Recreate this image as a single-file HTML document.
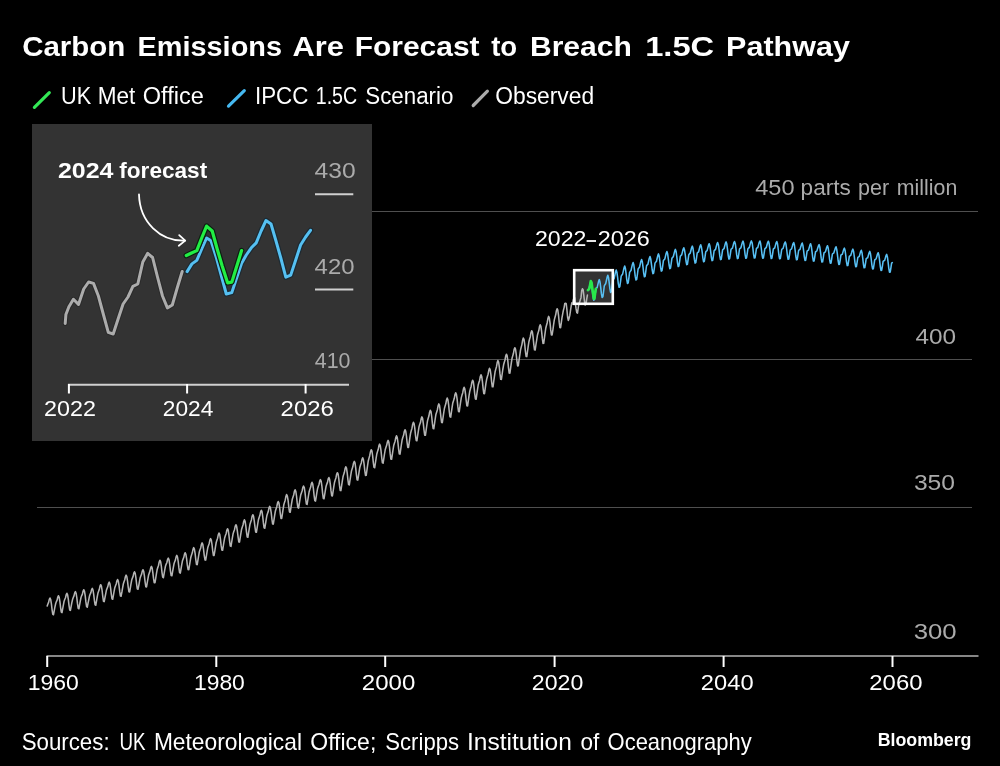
<!DOCTYPE html>
<html><head><meta charset="utf-8"><title>Carbon Emissions Are Forecast to Breach 1.5C Pathway</title>
<style>
html,body{margin:0;padding:0;background:#000;width:1000px;height:766px;overflow:hidden}
svg{display:block}
text{font-family:"Liberation Sans",sans-serif}
</style></head><body>
<svg width="1000" height="766" viewBox="0 0 1000 766" style="will-change:transform">
<rect width="1000" height="766" fill="#000"/>
<text x="22.15" y="56.00" font-size="28" font-weight="bold" fill="#fff" textLength="103.21" lengthAdjust="spacingAndGlyphs">Carbon</text>
<text x="137.54" y="56.00" font-size="28" font-weight="bold" fill="#fff" textLength="144.46" lengthAdjust="spacingAndGlyphs">Emissions</text>
<text x="292.50" y="56.00" font-size="28" font-weight="bold" fill="#fff" textLength="51.37" lengthAdjust="spacingAndGlyphs">Are</text>
<text x="354.66" y="56.00" font-size="28" font-weight="bold" fill="#fff" textLength="124.94" lengthAdjust="spacingAndGlyphs">Forecast</text>
<text x="491.20" y="56.00" font-size="28" font-weight="bold" fill="#fff" textLength="26.03" lengthAdjust="spacingAndGlyphs">to</text>
<text x="529.95" y="56.00" font-size="28" font-weight="bold" fill="#fff" textLength="101.85" lengthAdjust="spacingAndGlyphs">Breach</text>
<text x="645.23" y="56.00" font-size="28" font-weight="bold" fill="#fff" textLength="68.95" lengthAdjust="spacingAndGlyphs">1.5C</text>
<text x="726.12" y="56.00" font-size="28" font-weight="bold" fill="#fff" textLength="123.75" lengthAdjust="spacingAndGlyphs">Pathway</text>
<g stroke-linecap="round" stroke-width="3.2">
<line x1="34.4" y1="107.3" x2="49.3" y2="92.6" stroke="#33e856"/>
<line x1="228.5" y1="106.1" x2="244.3" y2="90.6" stroke="#45b8f0"/>
<line x1="473.2" y1="105.5" x2="487.4" y2="91.2" stroke="#acacac"/>
</g>
<text x="61.07" y="104.00" font-size="23.3" fill="#fff" textLength="30.18" lengthAdjust="spacingAndGlyphs">UK</text>
<text x="97.66" y="104.00" font-size="23.3" fill="#fff" textLength="37.58" lengthAdjust="spacingAndGlyphs">Met</text>
<text x="142.79" y="104.00" font-size="23.3" fill="#fff" textLength="61.05" lengthAdjust="spacingAndGlyphs">Office</text>
<text x="254.98" y="104.00" font-size="23.3" fill="#fff" textLength="53.47" lengthAdjust="spacingAndGlyphs">IPCC</text>
<text x="315.76" y="104.00" font-size="23.3" fill="#fff" textLength="41.43" lengthAdjust="spacingAndGlyphs">1.5C</text>
<text x="365.24" y="104.00" font-size="23.3" fill="#fff" textLength="88.17" lengthAdjust="spacingAndGlyphs">Scenario</text>
<text x="495.22" y="104.00" font-size="23.3" fill="#fff" textLength="98.87" lengthAdjust="spacingAndGlyphs">Observed</text>
<!-- gridlines -->
<g stroke="#4f4f4f" stroke-width="1.2">
<line x1="37" y1="211.5" x2="978" y2="211.5"/>
<line x1="37" y1="359.5" x2="972" y2="359.5"/>
<line x1="37" y1="507.5" x2="972" y2="507.5"/>
</g>
<text x="755.20" y="195.20" font-size="22.5" fill="#ababab" textLength="39.37" lengthAdjust="spacingAndGlyphs">450</text>
<text x="800.60" y="195.20" font-size="22.5" fill="#ababab" textLength="50.24" lengthAdjust="spacingAndGlyphs">parts</text>
<text x="858.04" y="195.20" font-size="22.5" fill="#ababab" textLength="31.11" lengthAdjust="spacingAndGlyphs">per</text>
<text x="896.85" y="195.20" font-size="22.5" fill="#ababab" textLength="60.47" lengthAdjust="spacingAndGlyphs">million</text>
<text x="915.50" y="343.70" font-size="22.5" fill="#ababab" textLength="40.59" lengthAdjust="spacingAndGlyphs">400</text>
<text x="913.91" y="490.00" font-size="22.5" fill="#ababab" textLength="41.09" lengthAdjust="spacingAndGlyphs">350</text>
<text x="913.66" y="638.60" font-size="22.5" fill="#ababab" textLength="42.97" lengthAdjust="spacingAndGlyphs">300</text>
<!-- axis -->
<line x1="46.5" y1="656" x2="978.5" y2="656" stroke="#868686" stroke-width="2"/>
<g stroke="#fff" stroke-width="2">
<line x1="47.2" y1="656" x2="47.2" y2="667"/>
<line x1="216.3" y1="656" x2="216.3" y2="667"/>
<line x1="385.2" y1="656" x2="385.2" y2="667"/>
<line x1="554.6" y1="656" x2="554.6" y2="667"/>
<line x1="723.6" y1="656" x2="723.6" y2="667"/>
<line x1="892.5" y1="656" x2="892.5" y2="667"/>
</g>
<text x="27.78" y="689.60" font-size="22.5" fill="#fff" textLength="51.08" lengthAdjust="spacingAndGlyphs">1960</text>
<text x="193.98" y="689.60" font-size="22.5" fill="#fff" textLength="50.88" lengthAdjust="spacingAndGlyphs">1980</text>
<text x="361.83" y="689.60" font-size="22.5" fill="#fff" textLength="53.43" lengthAdjust="spacingAndGlyphs">2000</text>
<text x="531.77" y="689.60" font-size="22.5" fill="#fff" textLength="51.49" lengthAdjust="spacingAndGlyphs">2020</text>
<text x="700.85" y="689.60" font-size="22.5" fill="#fff" textLength="52.72" lengthAdjust="spacingAndGlyphs">2040</text>
<text x="869.34" y="689.60" font-size="22.5" fill="#fff" textLength="53.13" lengthAdjust="spacingAndGlyphs">2060</text>
<!-- highlight box -->
<rect x="574.2" y="270.2" width="38.6" height="33.6" fill="#333" />
<g fill="none" stroke-linejoin="round" stroke-linecap="round" stroke-width="1.55">
<polyline points="47.2,606.0 47.9,604.0 48.6,602.4 49.3,599.4 50.0,598.0 50.7,599.5 51.4,603.8 52.1,609.8 52.8,614.4 53.5,614.7 54.2,610.9 54.9,607.1 55.7,603.5 56.4,601.6 57.1,600.1 57.8,597.0 58.5,595.7 59.2,597.3 59.9,601.6 60.6,607.6 61.3,612.2 62.0,612.6 62.7,608.7 63.4,604.8 64.1,601.2 64.8,599.3 65.5,597.7 66.2,594.7 66.9,593.3 67.6,594.8 68.3,599.2 69.0,605.3 69.7,610.0 70.4,610.4 71.1,606.6 71.8,602.8 72.6,599.3 73.3,597.4 74.0,595.9 74.7,592.9 75.4,591.6 76.1,593.2 76.8,597.6 77.5,603.7 78.2,608.4 78.9,608.8 79.6,604.9 80.3,601.1 81.0,597.5 81.7,595.6 82.4,594.1 83.1,591.0 83.8,589.7 84.5,591.3 85.2,595.7 85.9,601.9 86.6,606.7 87.3,607.2 88.0,603.3 88.8,599.5 89.5,596.0 90.2,594.1 90.9,592.6 91.6,589.6 92.3,588.4 93.0,590.0 93.7,594.4 94.4,600.4 95.1,604.9 95.8,605.2 96.5,601.1 97.2,597.0 97.9,593.3 98.6,591.2 99.3,589.4 100.0,586.2 100.7,584.7 101.4,586.1 102.1,590.5 102.8,596.6 103.5,601.3 104.2,601.7 104.9,597.8 105.7,593.8 106.4,590.2 107.1,588.2 107.8,586.6 108.5,583.5 109.2,582.1 109.9,583.7 110.6,588.1 111.3,594.2 112.0,598.9 112.7,599.3 113.4,595.3 114.1,591.4 114.8,587.7 115.5,585.7 116.2,584.0 116.9,580.9 117.6,579.5 118.3,581.1 119.0,585.4 119.7,591.4 120.4,596.0 121.1,596.2 121.9,592.0 122.6,587.8 123.3,584.0 124.0,581.8 124.7,580.0 125.4,576.7 126.1,575.1 126.8,576.5 127.5,580.8 128.2,587.0 128.9,591.7 129.6,592.0 130.3,588.0 131.0,583.9 131.7,580.1 132.4,578.1 133.1,576.4 133.8,573.2 134.5,571.8 135.2,573.3 135.9,577.7 136.6,584.0 137.3,588.8 138.0,589.3 138.8,585.3 139.5,581.3 140.2,577.7 140.9,575.7 141.6,574.1 142.3,571.0 143.0,569.7 143.7,571.3 144.4,575.8 145.1,582.0 145.8,586.7 146.5,587.0 147.2,582.9 147.9,578.8 148.6,575.0 149.3,572.9 150.0,571.1 150.7,567.9 151.4,566.4 152.1,567.9 152.8,572.3 153.5,578.2 154.2,582.7 155.0,582.7 155.7,578.3 156.4,573.9 157.1,569.8 157.8,567.5 158.5,565.5 159.2,562.0 159.9,560.2 160.6,561.5 161.3,565.9 162.0,572.3 162.7,577.2 163.4,577.7 164.1,573.7 164.8,569.7 165.5,566.0 166.2,564.1 166.9,562.5 167.6,559.4 168.3,558.1 169.0,559.7 169.7,564.3 170.4,570.6 171.1,575.5 171.9,575.8 172.6,571.7 173.3,567.6 174.0,563.8 174.7,561.8 175.4,560.1 176.1,556.8 176.8,555.4 177.5,557.0 178.2,561.5 178.9,567.9 179.6,572.7 180.3,573.1 181.0,569.0 181.7,564.9 182.4,561.1 183.1,559.1 183.8,557.3 184.5,554.1 185.2,552.7 185.9,554.3 186.6,558.7 187.3,564.9 188.1,569.6 188.8,569.7 189.5,565.4 190.2,561.0 190.9,557.0 191.6,554.7 192.3,552.8 193.0,549.3 193.7,547.6 194.4,549.0 195.1,553.4 195.8,559.6 196.5,564.4 197.2,564.6 197.9,560.3 198.6,556.0 199.3,552.0 200.0,549.8 200.7,547.9 201.4,544.5 202.1,542.9 202.8,544.3 203.5,548.8 204.2,555.1 205.0,559.9 205.7,560.1 206.4,555.8 207.1,551.5 207.8,547.6 208.5,545.4 209.2,543.5 209.9,540.1 210.6,538.6 211.3,540.0 212.0,544.5 212.7,550.7 213.4,555.4 214.1,555.5 214.8,551.1 215.5,546.7 216.2,542.5 216.9,540.2 217.6,538.2 218.3,534.7 219.0,533.0 219.7,534.4 220.4,538.8 221.1,545.2 221.9,550.1 222.6,550.3 223.3,546.0 224.0,541.7 224.7,537.7 225.4,535.6 226.1,533.7 226.8,530.3 227.5,528.7 228.2,530.2 228.9,534.8 229.6,541.2 230.3,546.1 231.0,546.4 231.7,542.0 232.4,537.7 233.1,533.7 233.8,531.5 234.5,529.7 235.2,526.3 235.9,524.7 236.6,526.2 237.3,530.7 238.1,537.1 238.8,541.9 239.5,542.1 240.2,537.7 240.9,533.3 241.6,529.2 242.3,526.9 243.0,525.0 243.7,521.5 244.4,519.8 245.1,521.3 245.8,525.8 246.5,532.1 247.2,537.0 247.9,537.2 248.6,532.7 249.3,528.3 250.0,524.2 250.7,521.9 251.4,519.9 252.1,516.4 252.8,514.7 253.5,516.2 254.2,520.7 255.0,527.2 255.7,532.1 256.4,532.3 257.1,527.9 257.8,523.5 258.5,519.4 259.2,517.2 259.9,515.3 260.6,511.8 261.3,510.2 262.0,511.7 262.7,516.4 263.4,522.9 264.1,527.9 264.8,528.2 265.5,523.8 266.2,519.5 266.9,515.4 267.6,513.2 268.3,511.4 269.0,507.9 269.7,506.4 270.4,507.9 271.2,512.6 271.9,519.0 272.6,523.9 273.3,524.1 274.0,519.6 274.7,515.1 275.4,511.0 276.1,508.7 276.8,506.7 277.5,503.1 278.2,501.5 278.9,502.9 279.6,507.4 280.3,513.7 281.0,518.5 281.7,518.5 282.4,513.9 283.1,509.2 283.8,504.8 284.5,502.4 285.2,500.2 285.9,496.5 286.6,494.6 287.3,495.9 288.1,500.5 288.8,507.0 289.5,512.0 290.2,512.3 290.9,507.8 291.6,503.3 292.3,499.2 293.0,496.9 293.7,495.0 294.4,491.4 295.1,489.8 295.8,491.3 296.5,496.0 297.2,502.7 297.9,507.7 298.6,508.1 299.3,503.6 300.0,499.2 300.7,495.1 301.4,492.9 302.1,491.0 302.8,487.6 303.5,486.0 304.3,487.6 305.0,492.3 305.7,499.0 306.4,504.1 307.1,504.4 307.8,500.0 308.5,495.5 309.2,491.4 309.9,489.2 310.6,487.3 311.3,483.8 312.0,482.3 312.7,483.8 313.4,488.7 314.1,495.5 314.8,500.7 315.5,501.1 316.2,496.8 316.9,492.4 317.6,488.4 318.3,486.3 319.0,484.5 319.7,481.1 320.4,479.6 321.2,481.3 321.9,486.2 322.6,493.1 323.3,498.3 324.0,498.8 324.7,494.5 325.4,490.2 326.1,486.2 326.8,484.1 327.5,482.3 328.2,478.9 328.9,477.5 329.6,479.3 330.3,484.1 331.0,490.7 331.7,495.7 332.4,495.9 333.1,491.3 333.8,486.7 334.5,482.4 335.2,480.1 335.9,478.0 336.6,474.4 337.4,472.7 338.1,474.2 338.8,478.9 339.5,485.4 340.2,490.4 340.9,490.6 341.6,485.9 342.3,481.2 343.0,476.8 343.7,474.4 344.4,472.3 345.1,468.6 345.8,466.8 346.5,468.2 347.2,472.9 347.9,479.6 348.6,484.6 349.3,484.9 350.0,480.2 350.7,475.6 351.4,471.3 352.1,468.9 352.8,466.8 353.5,463.2 354.3,461.4 355.0,462.9 355.7,467.8 356.4,474.6 357.1,479.8 357.8,480.2 358.5,475.7 359.2,471.2 359.9,467.0 360.6,464.8 361.3,462.9 362.0,459.4 362.7,457.8 363.4,459.5 364.1,464.2 364.8,470.6 365.5,475.4 366.2,475.3 366.9,470.3 367.6,465.4 368.3,460.7 369.0,458.1 369.7,455.7 370.5,451.7 371.2,449.7 371.9,450.9 372.6,455.5 373.3,462.3 374.0,467.4 374.7,467.7 375.4,463.0 376.1,458.3 376.8,454.0 377.5,451.6 378.2,449.6 378.9,445.9 379.6,444.1 380.3,445.7 381.0,450.6 381.7,457.5 382.4,462.8 383.1,463.1 383.8,458.6 384.5,454.0 385.2,449.8 385.9,447.6 386.6,445.6 387.4,442.0 388.1,440.4 388.8,442.1 389.5,447.0 390.2,453.9 390.9,459.1 391.6,459.3 392.3,454.7 393.0,450.0 393.7,445.6 394.4,443.3 395.1,441.2 395.8,437.5 396.5,435.8 397.2,437.4 397.9,442.2 398.6,448.9 399.3,454.0 400.0,454.1 400.7,449.3 401.4,444.5 402.1,440.0 402.8,437.5 403.6,435.3 404.3,431.5 405.0,429.7 405.7,431.1 406.4,435.8 407.1,442.5 407.8,447.5 408.5,447.5 409.2,442.6 409.9,437.7 410.6,433.1 411.3,430.5 412.0,428.2 412.7,424.2 413.4,422.3 414.1,423.7 414.8,428.4 415.5,435.3 416.2,440.5 416.9,440.8 417.6,436.0 418.3,431.3 419.0,426.9 419.7,424.5 420.5,422.4 421.2,418.6 421.9,416.9 422.6,418.4 423.3,423.3 424.0,430.0 424.7,435.2 425.4,435.3 426.1,430.4 426.8,425.5 427.5,420.9 428.2,418.3 428.9,416.1 429.6,412.2 430.3,410.3 431.0,411.7 431.7,416.5 432.4,423.4 433.1,428.5 433.8,428.7 434.5,423.8 435.2,419.0 435.9,414.4 436.7,411.9 437.4,409.7 438.1,405.8 438.8,403.9 439.5,405.4 440.2,410.3 440.9,417.2 441.6,422.4 442.3,422.6 443.0,417.8 443.7,413.0 444.4,408.5 445.1,406.0 445.8,403.8 446.5,400.0 447.2,398.1 447.9,399.7 448.6,404.6 449.3,411.6 450.0,416.8 450.7,417.1 451.4,412.2 452.1,407.4 452.8,402.9 453.6,400.5 454.3,398.3 455.0,394.5 455.7,392.7 456.4,394.3 457.1,399.2 457.8,406.2 458.5,411.5 459.2,411.8 459.9,406.9 460.6,402.1 461.3,397.6 462.0,395.1 462.7,392.9 463.4,389.1 464.1,387.3 464.8,388.9 465.5,393.8 466.2,400.6 466.9,405.8 467.6,405.9 468.3,400.9 469.0,395.8 469.8,391.2 470.5,388.5 471.2,386.2 471.9,382.2 472.6,380.2 473.3,381.7 474.0,386.6 474.7,393.6 475.4,399.0 476.1,399.3 476.8,394.4 477.5,389.5 478.2,385.0 478.9,382.5 479.6,380.4 480.3,376.5 481.0,374.8 481.7,376.4 482.4,381.3 483.1,388.3 483.8,393.6 484.5,393.7 485.2,388.7 485.9,383.7 486.7,379.1 487.4,376.5 488.1,374.2 488.8,370.3 489.5,368.3 490.2,369.9 490.9,374.7 491.6,381.6 492.3,386.8 493.0,386.8 493.7,381.7 494.4,376.6 495.1,371.8 495.8,369.1 496.5,366.7 497.2,362.6 497.9,360.6 498.6,362.0 499.3,366.9 500.0,373.9 500.7,379.3 501.4,379.4 502.1,374.5 502.8,369.5 503.6,364.8 504.3,362.3 505.0,360.0 505.7,356.1 506.4,354.2 507.1,355.7 507.8,360.7 508.5,367.8 509.2,373.1 509.9,373.2 510.6,368.2 511.3,363.2 512.0,358.5 512.7,355.9 513.4,353.6 514.1,349.6 514.8,347.7 515.5,349.2 516.2,354.1 516.9,360.8 517.6,365.9 518.3,365.7 519.0,360.4 519.8,355.1 520.5,350.1 521.2,347.1 521.9,344.6 522.6,340.3 523.3,338.0 524.0,339.3 524.7,344.1 525.4,351.2 526.1,356.5 526.8,356.6 527.5,351.5 528.2,346.4 528.9,341.7 529.6,339.0 530.3,336.7 531.0,332.7 531.7,330.7 532.4,332.2 533.1,337.2 533.8,344.3 534.5,349.8 535.2,350.0 535.9,345.0 536.7,340.0 537.4,335.3 538.1,332.8 538.8,330.6 539.5,326.6 540.2,324.8 540.9,326.4 541.6,331.3 542.3,338.2 543.0,343.4 543.7,343.3 544.4,338.1 545.1,332.9 545.8,328.0 546.5,325.2 547.2,322.7 547.9,318.6 548.6,316.4 549.3,317.8 550.0,322.7 550.7,329.7 551.4,334.9 552.1,335.0 552.9,329.8 553.6,324.7 554.3,319.9 555.0,317.2 555.7,314.8 556.4,310.7 557.1,308.7 557.8,310.2 558.5,315.1 559.2,322.2 559.9,327.6 560.6,327.7 561.3,322.7 562.0,317.6 562.7,313.9 563.4,310.2 564.1,307.6 564.8,303.4 565.5,303.2 566.2,303.7 566.9,309.6 567.6,317.0 568.3,320.4 569.0,318.6 569.8,315.4 570.5,310.3 571.2,306.0 571.9,302.7 572.6,304.1 573.3,299.9 574.0,297.7 574.7,297.7 575.4,303.9 576.1,308.9 576.8,312.6 577.5,313.1 578.2,308.0 578.9,303.7 579.6,302.2 580.3,299.7 581.0,297.7 581.7,290.7 582.4,288.8 583.1,289.7 583.8,295.2 584.5,301.5 585.2,305.0 586.0,304.1 586.7,299.2 587.4,295.1" stroke="#b4b4b4"/>
<polyline points="588.1,290.5 588.8,289.8 589.5,286.8 590.2,283.7 590.9,281.9 591.6,284.3 592.3,289.7 593.0,296.2 593.7,300.1 594.4,299.6 595.1,294.6 595.8,289.1 596.5,288.1 597.2,287.4 597.9,284.4 598.6,281.3 599.3,279.6 600.0,281.9 600.7,287.3 601.4,293.7 602.1,297.4 602.9,296.6 603.6,291.5 604.3,285.8 605.0,284.6 605.7,283.7 606.4,280.5 607.1,277.3 607.8,275.3 608.5,277.4 609.2,282.6 609.9,288.8 610.6,292.4 611.3,291.6 612.0,286.5 612.7,280.7 613.4,279.5 614.1,278.6 614.8,275.3 615.5,272.1 616.2,270.1 616.9,272.2 617.6,277.4 618.3,283.6 619.1,287.3 619.8,286.7 620.5,281.7 621.2,276.1 621.9,275.0 622.6,274.2 623.3,271.1 624.0,268.0 624.7,266.1 625.4,268.3 626.1,273.5 626.8,279.8 627.5,283.5 628.2,282.9 628.9,277.9 629.6,272.4 630.3,271.3 631.0,270.5 631.7,267.4 632.4,264.4 633.1,262.5 633.8,264.7 634.5,270.0 635.2,276.2 636.0,280.0 636.7,279.4 637.4,274.5 638.1,269.0 638.8,268.0 639.5,267.3 640.2,264.3 640.9,261.2 641.6,259.5 642.3,261.7 643.0,266.9 643.7,273.1 644.4,276.8 645.1,276.3 645.8,271.4 646.5,266.0 647.2,264.9 647.9,264.2 648.6,261.2 649.3,258.2 650.0,256.5 650.7,258.7 651.4,263.9 652.2,270.0 652.9,273.7 653.6,273.2 654.3,268.5 655.0,263.1 655.7,262.1 656.4,261.5 657.1,258.5 657.8,255.6 658.5,253.9 659.2,256.1 659.9,261.3 660.6,267.4 661.3,271.1 662.0,270.6 662.7,265.9 663.4,260.6 664.1,259.7 664.8,259.0 665.5,256.1 666.2,253.2 666.9,251.5 667.6,253.7 668.3,258.9 669.1,265.0 669.8,268.7 670.5,268.2 671.2,263.5 671.9,258.3 672.6,257.4 673.3,256.7 674.0,253.9 674.7,251.1 675.4,249.4 676.1,251.6 676.8,256.7 677.5,262.8 678.2,266.5 678.9,266.0 679.6,261.5 680.3,256.3 681.0,255.4 681.7,254.8 682.4,252.1 683.1,249.3 683.8,247.7 684.5,249.9 685.3,255.0 686.0,261.0 686.7,264.7 687.4,264.3 688.1,259.7 688.8,254.7 689.5,253.8 690.2,253.2 690.9,250.5 691.6,247.7 692.3,246.1 693.0,248.3 693.7,253.4 694.4,259.4 695.1,263.1 695.8,262.7 696.5,258.2 697.2,253.1 697.9,252.3 698.6,251.8 699.3,249.0 700.0,246.3 700.7,244.8 701.4,247.0 702.2,252.1 702.9,258.1 703.6,261.8 704.3,261.4 705.0,257.0 705.7,252.0 706.4,251.1 707.1,250.6 707.8,247.9 708.5,245.2 709.2,243.7 709.9,245.9 710.6,251.0 711.3,257.0 712.0,260.7 712.7,260.3 713.4,255.9 714.1,250.8 714.8,250.0 715.5,249.5 716.2,246.8 716.9,244.1 717.6,242.5 718.4,244.7 719.1,249.9 719.8,255.9 720.5,259.6 721.2,259.3 721.9,254.9 722.6,249.9 723.3,249.2 724.0,248.7 724.7,246.0 725.4,243.4 726.1,241.9 726.8,244.1 727.5,249.3 728.2,255.3 728.9,259.0 729.6,258.7 730.3,254.4 731.0,249.4 731.7,248.7 732.4,248.2 733.1,245.6 733.8,242.9 734.5,241.5 735.3,243.7 736.0,248.9 736.7,254.9 737.4,258.6 738.1,258.3 738.8,254.0 739.5,249.0 740.2,248.3 740.9,247.8 741.6,245.2 742.3,242.6 743.0,241.1 743.7,243.4 744.4,248.6 745.1,254.6 745.8,258.3 746.5,258.0 747.2,253.6 747.9,248.7 748.6,248.0 749.3,247.5 750.0,244.9 750.7,242.3 751.4,240.9 752.2,243.1 752.9,248.3 753.6,254.3 754.3,258.0 755.0,257.8 755.7,253.5 756.4,248.6 757.1,247.9 757.8,247.5 758.5,244.9 759.2,242.4 759.9,241.0 760.6,243.3 761.3,248.5 762.0,254.5 762.7,258.2 763.4,258.0 764.1,253.7 764.8,248.8 765.5,248.2 766.2,247.7 766.9,245.2 767.6,242.6 768.4,241.2 769.1,243.5 769.8,248.7 770.5,254.7 771.2,258.5 771.9,258.2 772.6,253.9 773.3,249.1 774.0,248.4 774.7,248.0 775.4,245.4 776.1,242.9 776.8,241.5 777.5,243.8 778.2,249.0 778.9,255.0 779.6,258.8 780.3,258.5 781.0,254.3 781.7,249.5 782.4,248.8 783.1,248.4 783.8,245.9 784.5,243.3 785.3,242.0 786.0,244.3 786.7,249.5 787.4,255.5 788.1,259.3 788.8,259.0 789.5,254.8 790.2,250.0 790.9,249.3 791.6,248.9 792.3,246.4 793.0,243.8 793.7,242.5 794.4,244.8 795.1,250.0 795.8,256.0 796.5,259.8 797.2,259.5 797.9,255.3 798.6,250.5 799.3,249.8 800.0,249.5 800.7,246.9 801.5,244.4 802.2,243.0 802.9,245.4 803.6,250.6 804.3,256.6 805.0,260.4 805.7,260.2 806.4,255.9 807.1,251.1 807.8,250.5 808.5,250.1 809.2,247.6 809.9,245.1 810.6,243.7 811.3,246.1 812.0,251.3 812.7,257.3 813.4,261.1 814.1,260.9 814.8,256.7 815.5,251.9 816.2,251.3 816.9,250.9 817.6,248.4 818.4,245.9 819.1,244.6 819.8,246.9 820.5,252.1 821.2,258.2 821.9,262.0 822.6,261.8 823.3,257.6 824.0,252.9 824.7,252.3 825.4,251.9 826.1,249.5 826.8,247.0 827.5,245.7 828.2,248.0 828.9,253.3 829.6,259.4 830.3,263.2 831.0,263.0 831.7,258.8 832.4,254.0 833.1,253.4 833.8,253.1 834.6,250.6 835.3,248.1 836.0,246.8 836.7,249.2 837.4,254.4 838.1,260.5 838.8,264.4 839.5,264.2 840.2,260.0 840.9,255.2 841.6,254.6 842.3,254.3 843.0,251.9 843.7,249.4 844.4,248.1 845.1,250.5 845.8,255.7 846.5,261.8 847.2,265.6 847.9,265.4 848.6,261.2 849.3,256.4 850.0,255.8 850.7,255.4 851.5,253.0 852.2,250.5 852.9,249.1 853.6,251.5 854.3,256.7 855.0,262.8 855.7,266.7 856.4,266.5 857.1,262.3 857.8,257.5 858.5,256.9 859.2,256.6 859.9,254.1 860.6,251.6 861.3,250.3 862.0,252.7 862.7,257.9 863.4,264.0 864.1,267.8 864.8,267.6 865.5,263.4 866.2,258.7 866.9,258.1 867.7,257.7 868.4,255.2 869.1,252.8 869.8,251.4 870.5,253.8 871.2,259.0 871.9,265.1 872.6,268.9 873.3,268.8 874.0,264.6 874.7,259.9 875.4,259.3 876.1,258.9 876.8,256.5 877.5,254.0 878.2,252.7 878.9,255.1 879.6,260.4 880.3,266.5 881.0,270.4 881.7,270.2 882.4,266.1 883.1,261.4 883.8,260.8 884.6,260.6 885.3,258.1 886.0,255.7 886.7,254.4 887.4,256.9 888.1,262.2 888.8,268.3 889.5,272.2 890.2,272.0 890.9,267.9 891.6,263.1 892.3,262.6" stroke="#58c0f4"/>
<polyline points="587.9,290.2 588.7,289.4 589.4,288.7 590.1,284.8 590.8,281.1 591.6,282.6 592.3,288.2 593.0,293.5 593.8,298.7 594.4,298.5 595.1,293.5 595.8,288.7" stroke="#28e84a" stroke-width="2.6"/>
</g>
<rect x="574.2" y="270.2" width="38.6" height="33.6" fill="none" stroke="#fff" stroke-width="2.6"/>
<text x="534.97" y="246.20" font-size="22.5" fill="#fff" textLength="51.42" lengthAdjust="spacingAndGlyphs">2022</text>
<rect x="586.6" y="240.1" width="9.4" height="1.8" fill="#fff"/>
<text x="597.76" y="246.20" font-size="22.5" fill="#fff" textLength="52.04" lengthAdjust="spacingAndGlyphs">2026</text>
<!-- inset -->
<rect x="32" y="124" width="340" height="317" fill="#333"/>
<g stroke="#d0d0d0" stroke-width="2">
<line x1="315" y1="194.3" x2="353.3" y2="194.3"/>
<line x1="315" y1="289.5" x2="353.3" y2="289.5"/>
<line x1="68" y1="384.8" x2="349" y2="384.8"/>
</g>
<g stroke="#fff" stroke-width="2">
<line x1="68.9" y1="384" x2="68.9" y2="393.5"/>
<line x1="187.1" y1="384" x2="187.1" y2="393.5"/>
<line x1="305.6" y1="384" x2="305.6" y2="393.5"/>
</g>
<text x="314.60" y="178.40" font-size="22.5" fill="#ababab" textLength="41.10" lengthAdjust="spacingAndGlyphs">430</text>
<text x="314.60" y="274.00" font-size="22.5" fill="#ababab" textLength="39.88" lengthAdjust="spacingAndGlyphs">420</text>
<text x="314.80" y="368.20" font-size="22.5" fill="#ababab" textLength="35.72" lengthAdjust="spacingAndGlyphs">410</text>
<text x="43.96" y="415.70" font-size="22.5" fill="#fff" textLength="51.94" lengthAdjust="spacingAndGlyphs">2022</text>
<text x="162.79" y="415.70" font-size="22.5" fill="#fff" textLength="50.57" lengthAdjust="spacingAndGlyphs">2024</text>
<text x="280.64" y="415.70" font-size="22.5" fill="#fff" textLength="53.30" lengthAdjust="spacingAndGlyphs">2026</text>
<text x="57.90" y="178.30" font-size="22" font-weight="bold" fill="#fff" textLength="55.55" lengthAdjust="spacingAndGlyphs">2024</text>
<text x="119.30" y="178.30" font-size="22" font-weight="bold" fill="#fff" textLength="87.88" lengthAdjust="spacingAndGlyphs">forecast</text>
<g fill="none" stroke="#fff" stroke-width="1.8" stroke-linecap="round" stroke-linejoin="round">
<path d="M139,194.5 C139.7,222.3 160.5,241.5 185,240.6"/>
<path d="M179.2,235.1 L185.2,240.6 L178.8,245.7"/>
</g>
<g fill="none" stroke-linejoin="round" stroke-linecap="round">
<polyline points="65.2,323.5 65.9,314.5 68.9,306.8 73.4,299.3 78.5,304.4 83.7,289.0 88.6,282.0 93.5,283.4 98.4,296.0 103.4,314.5 108.3,332.4 113.2,334.0 118.1,319.0 123.1,304.0 128.0,297.0 132.9,286.4 137.8,284.0 142.8,262.0 147.7,253.3 152.6,257.5 157.5,277.0 162.5,296.0 167.4,307.9 172.3,305.0 177.2,288.0 182.2,271.5" stroke="#2a2a2a" stroke-width="5"/>
<polyline points="65.2,323.5 65.9,314.5 68.9,306.8 73.4,299.3 78.5,304.4 83.7,289.0 88.6,282.0 93.5,283.4 98.4,296.0 103.4,314.5 108.3,332.4 113.2,334.0 118.1,319.0 123.1,304.0 128.0,297.0 132.9,286.4 137.8,284.0 142.8,262.0 147.7,253.3 152.6,257.5 157.5,277.0 162.5,296.0 167.4,307.9 172.3,305.0 177.2,288.0 182.2,271.5" stroke="#acacac" stroke-width="3"/>
<polyline points="187.1,271.6 191.9,263.9 196.8,260.4 201.7,249.0 206.6,238.0 211.0,240.8 216.5,258.0 221.4,276.0 226.3,294.0 231.8,292.6 236.6,278.0 241.6,263.2 246.3,255.0 251.3,247.8 256.2,242.9 261.1,231.0 266.0,220.5 271.0,224.0 276.0,241.0 280.8,258.0 285.8,277.2 290.7,275.1 295.7,260.0 300.6,245.0 305.6,237.0 310.5,230.3" stroke="#1c2a33" stroke-width="5.4"/>
<polyline points="187.1,271.6 191.9,263.9 196.8,260.4 201.7,249.0 206.6,238.0 211.0,240.8 216.5,258.0 221.4,276.0 226.3,294.0 231.8,292.6 236.6,278.0 241.6,263.2 246.3,255.0 251.3,247.8 256.2,242.9 261.1,231.0 266.0,220.5 271.0,224.0 276.0,241.0 280.8,258.0 285.8,277.2 290.7,275.1 295.7,260.0 300.6,245.0 305.6,237.0 310.5,230.3" stroke="#55c0f2" stroke-width="3"/>
<polyline points="186.3,255.5 191.5,253.0 196.8,250.6 201.7,238.0 206.6,226.1 212.2,231.0 217.2,249.0 222.2,266.0 227.6,282.8 231.8,282.1 236.8,266.0 241.6,250.6" stroke="#0c2010" stroke-width="5.6"/>
<polyline points="186.3,255.5 191.5,253.0 196.8,250.6 201.7,238.0 206.6,226.1 212.2,231.0 217.2,249.0 222.2,266.0 227.6,282.8 231.8,282.1 236.8,266.0 241.6,250.6" stroke="#22ee44" stroke-width="3.2"/>
</g>
<text x="21.66" y="749.60" font-size="23.8" fill="#fff" textLength="87.94" lengthAdjust="spacingAndGlyphs">Sources:</text>
<text x="119.41" y="749.60" font-size="23.8" fill="#fff" textLength="26.04" lengthAdjust="spacingAndGlyphs">UK</text>
<text x="153.89" y="749.60" font-size="23.8" fill="#fff" textLength="148.10" lengthAdjust="spacingAndGlyphs">Meteorological</text>
<text x="310.28" y="749.60" font-size="23.8" fill="#fff" textLength="66.01" lengthAdjust="spacingAndGlyphs">Office;</text>
<text x="385.32" y="749.60" font-size="23.8" fill="#fff" textLength="73.76" lengthAdjust="spacingAndGlyphs">Scripps</text>
<text x="466.94" y="749.60" font-size="23.8" fill="#fff" textLength="104.95" lengthAdjust="spacingAndGlyphs">Institution</text>
<text x="580.55" y="749.60" font-size="23.8" fill="#fff" textLength="18.81" lengthAdjust="spacingAndGlyphs">of</text>
<text x="607.58" y="749.60" font-size="23.8" fill="#fff" textLength="144.12" lengthAdjust="spacingAndGlyphs">Oceanography</text>
<text x="877.63" y="745.90" font-size="18.3" font-weight="bold" fill="#fff" textLength="93.86" lengthAdjust="spacingAndGlyphs">Bloomberg</text>
</svg>
</body></html>
